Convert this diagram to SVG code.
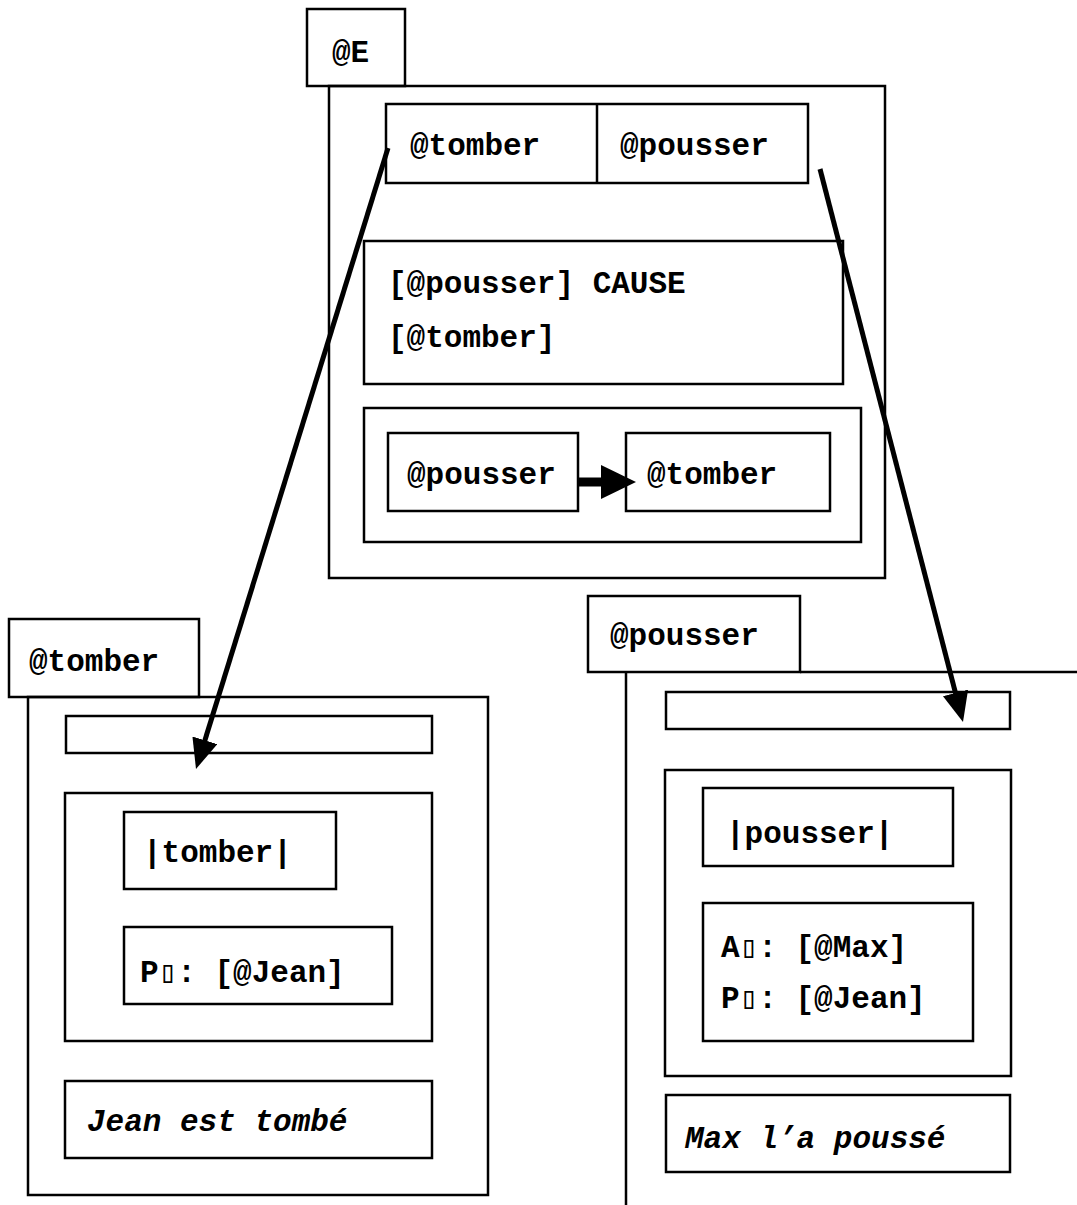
<svg xmlns="http://www.w3.org/2000/svg" width="1077" height="1205" viewBox="0 0 1077 1205">
  <style>
    .box { fill: none; stroke: #000; stroke-width: 2.5; }
    .ln { fill: none; stroke: #000; stroke-width: 2.5; }
    .t { font-family: "Liberation Mono", "Courier New", "DejaVu Sans Mono", monospace; font-weight: bold; font-size: 31px; fill: #000; }
    .it { font-style: italic; }
    .tofu { font-family: "DejaVu Sans Mono", monospace; font-weight: normal; }
    .link { fill: none; stroke: #000; stroke-width: 5; }
  </style>
  <defs>
    <marker id="head" markerUnits="userSpaceOnUse" markerWidth="30" markerHeight="26" refX="10" refY="13" orient="auto">
      <path d="M0,0 L30,13 L0,26 z" fill="#000"/>
    </marker>
  </defs>
  <rect width="1077" height="1205" fill="#fff"/>

  <!-- event @E -->
  <g id="node-E">
    <rect class="box" x="307" y="9" width="98" height="77"/>
    <text class="t" x="332" y="62">@E</text>
    <rect class="box" x="329" y="86" width="556" height="492"/>
  </g>
  <g id="node-E-parts">
    <rect class="box" x="386" y="104" width="422" height="79"/>
    <line class="ln" x1="597" y1="104" x2="597" y2="183"/>
    <text class="t" x="410" y="155">@tomber</text>
    <text class="t" x="620" y="155">@pousser</text>
  </g>
  <g id="node-E-cause">
    <rect class="box" x="364" y="241" width="479" height="143"/>
    <text class="t" x="388" y="293">[@pousser] CAUSE</text>
    <text class="t" x="388" y="347">[@tomber]</text>
  </g>
  <g id="node-E-sequence">
    <rect class="box" x="364" y="408" width="497" height="134"/>
    <rect class="box" x="388" y="433" width="190" height="78"/>
    <text class="t" x="407" y="484">@pousser</text>
    <rect class="box" x="626" y="433" width="204" height="78"/>
    <text class="t" x="647" y="484">@tomber</text>
  </g>

  <!-- event @tomber -->
  <g id="node-tomber">
    <rect class="box" x="9" y="619" width="190" height="78"/>
    <text class="t" x="29" y="671">@tomber</text>
    <rect class="box" x="28" y="697" width="460" height="498"/>
    <rect class="box" x="66" y="716" width="366" height="37"/>
    <rect class="box" x="65" y="793" width="367" height="248"/>
    <rect class="box" x="124" y="812" width="212" height="77"/>
    <text class="t" x="143" y="862">|tomber|</text>
    <rect class="box" x="124" y="927" width="268" height="77"/>
    <text class="t" x="140" y="982">P<tspan class="tofu">▯</tspan>: [@Jean]</text>
    <rect class="box" x="65" y="1081" width="367" height="77"/>
    <text class="t it" x="87" y="1131">Jean est tombé</text>
  </g>

  <!-- event @pousser -->
  <g id="node-pousser">
    <rect class="box" x="588" y="596" width="212" height="76"/>
    <text class="t" x="610" y="645">@pousser</text>
    <line class="ln" x1="800" y1="672" x2="1077" y2="672"/>
    <line class="ln" x1="626" y1="672" x2="626" y2="1205"/>
    <rect class="box" x="666" y="692" width="344" height="37"/>
    <rect class="box" x="665" y="770" width="346" height="306"/>
    <rect class="box" x="703" y="788" width="250" height="78"/>
    <text class="t" x="726" y="843">|pousser|</text>
    <rect class="box" x="703" y="903" width="270" height="138"/>
    <text class="t" x="721" y="957">A<tspan class="tofu">▯</tspan>: [@Max]</text>
    <text class="t" x="721" y="1008">P<tspan class="tofu">▯</tspan>: [@Jean]</text>
    <rect class="box" x="666" y="1095" width="344" height="77"/>
    <text class="t it" x="685" y="1148">Max l’a poussé</text>
  </g>

  <!-- connectors -->
  <g id="connectors">
    <line class="link" x1="388" y1="148" x2="201.9" y2="749.9" marker-end="url(#head)"/>
    <line class="link" x1="820" y1="169" x2="958" y2="702.6" marker-end="url(#head)"/>
    <line x1="578" y1="482" x2="603" y2="482" stroke="#000" stroke-width="9"/>
    <path d="M601,465 L636,482 L601,499 z" fill="#000"/>
  </g>
</svg>
